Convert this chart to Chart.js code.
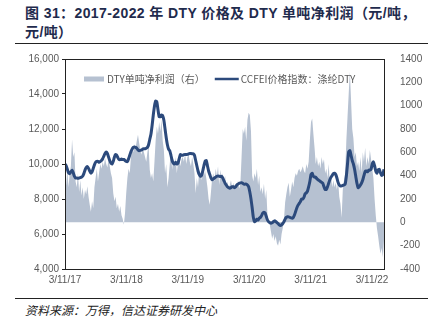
<!DOCTYPE html>
<html>
<head>
<meta charset="utf-8">
<script src="https://cdn.jsdelivr.net/npm/chart.js@4.4.0/dist/chart.umd.min.js"></script>
<style>
  body { margin: 0; width: 447px; height: 325px; background: #fff; position: relative; overflow: hidden;
         font-family: "Noto Sans CJK SC", sans-serif; }
  .title { position: absolute; left: 25px; top: 4px; width: 420px; font-size: 14px; font-weight: bold;
           font-family: "Liberation Sans", "Noto Sans CJK SC", sans-serif; letter-spacing: 0.4px;
           color: #1f2b4d; line-height: 19px; white-space: nowrap; }
  .title .cjk { font-weight: normal; }
  .rule { position: absolute; left: 15px; width: 413px; border-top: 1px solid #222; }
  .src { position: absolute; left: 25px; top: 301px; font-size: 12px; font-style: italic; color: #222; }
  .box { position: absolute; left: 0; top: 45px; width: 447px; height: 244px; }
</style>
</head>
<body>
<div class="title">图 31：2017-2022 年 DTY 价格及 DTY 单吨净利润（元/吨，<br>元/吨）</div>
<div class="rule" style="top:43px"></div>
<div class="box"><canvas id="dtyChart"></canvas></div>
<div class="rule" style="top:298px"></div>
<div class="src">资料来源：万得，信达证券研发中心</div>

<script>
// weekly series, first week = 2017-03-11
const startDate = '2017-03-11';
const profitLabel = 'DTY单吨净利润（右）';
const priceLabel = 'CCFEI价格指数：涤纶DTY';

// DTY 单吨净利润 (元/吨, right axis)
const profit = [
  380, 320, 450, 300, 420, 480, 710, 560, 600, 350,
  300, 420, 260, 360, 230, 300, 200, 280, 240, 310,
  220, 150, 90, 180, 120, 300, 380, 460, 350, 430,
  500, 460, 520, 480, 550, 500, 470, 540, 480, 420,
  380, 250, 180, 220, 120, 160, 90, 140, 60, 30,
  -20, 80, 250, 380, 460, 420, 560, 620, 600, 670,
  640, 700, 750, 680, 620, 580, 650, 600, 560, 520,
  600, 660, 450, 380, 420, 350, 520, 700, 820, 760,
  860, 780, 880, 700, 620, 420, 500, 300, 380, 500,
  620, 450, 550, 480, 560, 420, 520, 580, 480, 540,
  560, 520, 590, 500, 560, 580, 520, 480, 560, 500,
  420, 250, 380, 300, 450, 420, 360, 480, 400, 440,
  380, 300, 200, 150, 260, 380, 420, 350, 460, 400,
  480, 320, 450, 380, 420, 330, 400, 300, 350, 280,
  320, 360, 300, 340, 280, 330, 300, 360, 290, 330,
  560, 800, 760, 820, 700, 880, 940, 920, 780, 400,
  350, 420, 380, 460, 320, 400, 260, 300, 240, 330,
  200, 280, 60, 10, -20, -80, -140, -100, -160, -120,
  -180, -200, -150, -190, -100, -50, 20, 170, 240, 300,
  340, 220, 280, 350, 300, 380, 420, 400, 440, 460,
  430, 450, 480, 440, 420, 500, 460, 520, 700, 860,
  890, 760, 640, 500, 560, 480, 520, 460, 560, 500,
  540, 420, 460, 380, 500, 340, 400, 300, 360, 300,
  340, 280, 360, 220, 160, 40, 280, 360, 420, 700,
  900, 1100, 1290, 1050, 800, 720, 560, 600, 480, 520,
  440, 560, 420, 600, 520, 640, 480, 560, 500, 620,
  540, 460, 380, 200, 60, -50, -120, -200, -270, -220,
  -300, -150
];

// CCFEI 涤纶DTY 价格指数 (元/吨, left axis)
const price = [
  10000, 9900, 9700, 9500, 9450, 9550, 9650, 9500, 9300, 9200,
  9200, 9180, 9200, 9220, 9250, 9300, 9450, 9650, 9800, 9850,
  9750, 9600, 9480, 9550, 9750, 9950, 10100, 10150, 10150, 10100,
  10150, 10200, 10300, 10450, 10600, 10680, 10600, 10400, 10200, 10050,
  10000, 10150, 10400, 10540, 10500, 10350, 10250, 10250, 10280, 10250,
  10260, 10200, 10150, 10140, 10300, 10500, 10700, 10850, 10950, 10970,
  10950, 10900, 10800, 10760, 10780, 10800, 10850, 10870, 10870, 10900,
  10950, 11100, 11400, 11700, 12200, 12800, 13300, 13600, 13550, 13100,
  12700, 12700, 12800, 12750, 12500, 12000, 11500, 11100, 10850, 10760,
  10500, 10200, 10050, 10000, 10100, 10000, 10050, 10300, 10540, 10500,
  10500, 10540, 10550, 10540, 10550, 10580, 10600, 10600, 10580, 10580,
  10500, 10200, 9900, 9600, 9400, 9300, 9350, 9600, 9900, 10150,
  10200, 9900, 9600, 9400, 9200, 9100, 9150, 9200, 9250, 9300,
  9320, 9300, 9280, 9300, 9200, 9050, 8900, 8800, 8700, 8650,
  8620, 8650, 8700, 8700, 8650, 8700, 8800, 8850, 8900, 8920,
  8930, 8900, 8850, 8850, 8850, 8800, 8700, 8400, 8000, 7500,
  6950, 6700, 6750, 6850, 6800, 6900, 6950, 7050, 7200, 7250,
  7200, 7000, 6800, 6700, 6650, 6620, 6650, 6700, 6750, 6720,
  6650, 6600, 6520, 6490, 6520, 6600, 6700, 6850, 6950, 6990,
  6980, 6950, 6920, 6900, 6950, 7100, 7300, 7500, 7650, 7750,
  7850, 8000, 8000, 8100, 8300, 8350, 8450, 8700, 9000, 9400,
  9470, 9300, 9250, 9250, 9150, 9100, 9050, 9000, 8950, 8900,
  8700, 8550, 8550, 8700, 8900, 9100, 9250, 9350, 9450, 9470,
  9400, 9200, 8950, 8800, 8740, 8750, 8780, 8800, 8850, 9300,
  10000, 10700, 10760, 10500, 10200, 10000, 9700, 9300, 8900, 8650,
  8700, 8800, 8920, 9100, 9350, 9580, 9600, 9550, 9650, 9650,
  9700, 10000, 10120, 9900, 9600, 9470, 9650, 9700, 9500, 9350,
  9400, 9700
];

// x-axis tick dates and their labels
const tickDates = ['2017-03-11', '2018-03-11', '2019-03-11', '2020-03-11', '2021-03-11', '2022-03-11'];
const tickLabels = ['3/11/17', '3/11/18', '3/11/19', '3/11/20', '3/11/21', '3/11/22'];

const DAY = 86400000;
const t0 = Date.parse(startDate);
const weekX = profit.map((v, i) => t0 + i * 7 * DAY);
const tickX = tickDates.map(d => Date.parse(d));

const profitColor = '#b6c1d1';
const priceColor = '#2c4a7c';

Chart.defaults.font.family = '"Liberation Sans", "Noto Sans CJK SC", sans-serif';
Chart.defaults.font.size = 10;
Chart.defaults.color = '#595959';

// legend drawn inside the plot, top-left
const innerLegend = {
  id: 'innerLegend',
  afterDraw(chart) {
    const ctx = chart.ctx;
    const y = chart.chartArea.top + 20;
    ctx.save();
    ctx.font = '10px "Noto Sans CJK SC", sans-serif';
    ctx.textBaseline = 'middle';
    let x = 84;
    ctx.fillStyle = profitColor;
    ctx.fillRect(x, y - 2.5, 20, 5);
    ctx.fillStyle = '#595959';
    ctx.fillText(profitLabel, x + 23, y);
    x = x + 23 + ctx.measureText(profitLabel).width + 10;
    ctx.strokeStyle = priceColor;
    ctx.lineWidth = 2.5;
    ctx.beginPath();
    ctx.moveTo(x, y);
    ctx.lineTo(x + 24, y);
    ctx.stroke();
    ctx.fillText(priceLabel, x + 26, y);
    ctx.restore();
  }
};

// plot frame
const frame = {
  id: 'frame',
  afterDatasetsDraw(chart) {
    const a = chart.chartArea;
    const ctx = chart.ctx;
    ctx.save();
    ctx.strokeStyle = '#222';
    ctx.lineWidth = 1;
    ctx.strokeRect(Math.round(a.left) + 0.5, Math.round(a.top) + 0.5,
      Math.round(a.right - a.left), Math.round(a.bottom - a.top));
    ctx.restore();
  }
};

new Chart(document.getElementById('dtyChart'), {
  type: 'line',
  data: {
    datasets: [
      {
        label: profitLabel,
        data: profit.map((v, i) => ({ x: weekX[i], y: v })),
        yAxisID: 'yR',
        fill: 'origin',
        backgroundColor: profitColor,
        borderWidth: 0,
        pointRadius: 0,
        order: 2
      },
      {
        label: priceLabel,
        data: price.map((v, i) => ({ x: weekX[i], y: v })),
        yAxisID: 'yL',
        borderColor: priceColor,
        borderWidth: 3,
        pointRadius: 0,
        tension: 0.2,
        fill: false,
        order: 1
      }
    ]
  },
  options: {
    responsive: true,
    maintainAspectRatio: false,
    animation: false,
    layout: { padding: { top: 7, left: 0, right: 0, bottom: 0 } },
    plugins: { legend: { display: false }, tooltip: { enabled: false } },
    scales: {
      x: {
        type: 'linear',
        min: t0,
        max: weekX[weekX.length - 1],
        grid: { display: false, drawTicks: false },
        border: { display: false },
        afterBuildTicks(scale) { scale.ticks = tickX.map(v => ({ value: v })); },
        afterFit(scale) { scale.height = 20; },
        ticks: {
          padding: 5,
          maxRotation: 0,
          autoSkip: false,
          callback: (v) => tickLabels[tickX.indexOf(v)]
        }
      },
      yL: {
        position: 'left',
        min: 4000,
        max: 16000,
        grid: { display: true, drawOnChartArea: false, drawTicks: true, tickLength: 3, color: '#222' },
        border: { display: false },
        afterFit(scale) { scale.width = 65; },
        ticks: {
          stepSize: 2000,
          padding: 3,
          callback: (v) => v.toLocaleString('en-US')
        }
      },
      yR: {
        position: 'right',
        min: -400,
        max: 1400,
        grid: { display: false },
        border: { display: false },
        afterFit(scale) { scale.width = 63; },
        ticks: { stepSize: 200, padding: 8, callback: (v) => String(v) }
      }
    }
  },
  plugins: [innerLegend, frame]
});
</script>
</body>
</html>
